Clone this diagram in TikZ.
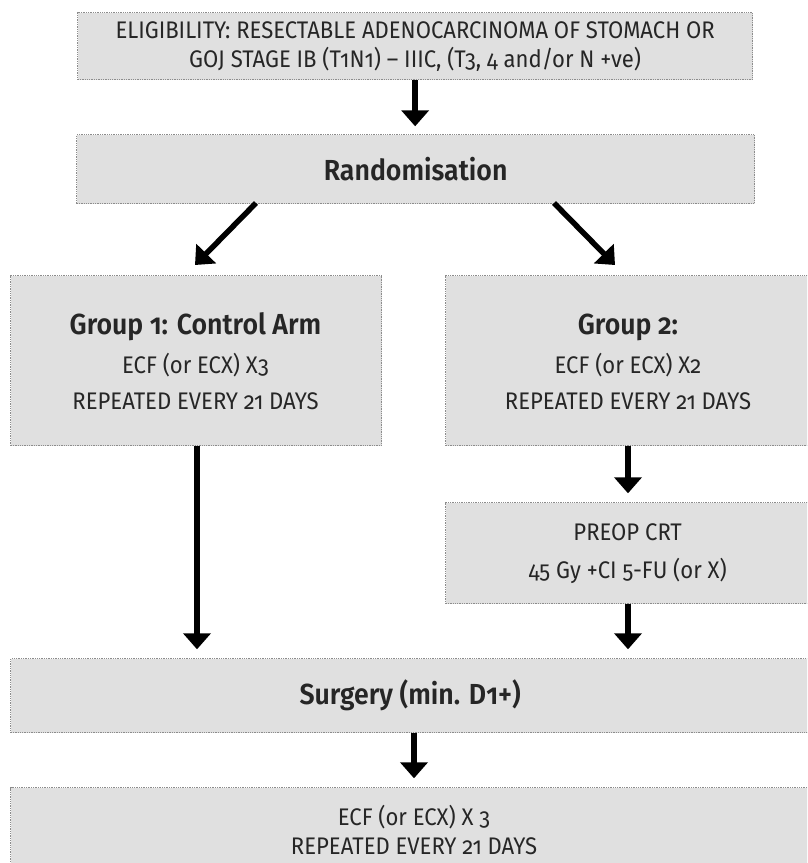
\documentclass[tikz,border=0pt]{standalone}
\usepackage{fontspec}
\setmainfont{Fira Sans}[Numbers=OldStyle, FakeStretch=0.92, BoldFont={Fira Sans SemiBold}]
\usetikzlibrary{arrows.meta}
\definecolor{boxfill}{HTML}{E0E0E0}
\definecolor{boxline}{HTML}{8C8C8C}
\definecolor{ink}{HTML}{262626}
\tikzset{
  stagebox/.style={draw=boxline, densely dotted, line width=1.3pt, fill=boxfill,
    inner sep=0pt, align=center, text=ink, anchor=north west},
  flow/.style={line width=5.5pt, draw=black, -{Triangle[width=27pt,length=16pt]}},
  bodytext/.style={font=\fontsize{24}{29}\selectfont},
  titletext/.style={font=\fontsize{29}{34}\selectfont\bfseries},
}
\begin{document}
\begin{tikzpicture}[x=1pt, y=-1pt]
  \useasboundingbox (0,0) rectangle (807,863);
  \begin{scope}
    \clip (0,0) rectangle (807,863);

    % boxes, placed by their top-left corners
    \node[stagebox, minimum width=675pt, minimum height=67pt, bodytext] (elig) at (77,12)
      {ELIGIBILITY: RESECTABLE ADENOCARCINOMA OF STOMACH OR\\GOJ STAGE IB (T1N1) – IIIC, (T3, 4 and/or N +ve)};
    \node[stagebox, minimum width=678pt, minimum height=69pt, titletext] (rand) at (76,134)
      {Randomisation};
    \node[stagebox, minimum width=371pt, minimum height=170pt] (g1) at (10,275) {};
    \node[titletext, text=ink, align=center] (g1t) at (195.5,327) {Group 1: Control Arm};
    \node[bodytext, text=ink, align=center] (g1b) at (195.5,381)
      {ECF (or ECX) X3\\[7pt]REPEATED EVERY 21 DAYS};
    \node[stagebox, minimum width=364pt, minimum height=170pt] (g2) at (445,275) {};
    \node[titletext, text=ink, align=center] (g2t) at (628,327) {Group 2:};
    \node[bodytext, text=ink, align=center] (g2b) at (628,381)
      {ECF (or ECX) X2\\[7pt]REPEATED EVERY 21 DAYS};
    \node[stagebox, minimum width=364pt, minimum height=101pt, bodytext] (preop) at (445,502)
      {PREOP CRT\\[9pt]45 Gy +CI 5-FU (or X)};
    \node[stagebox, minimum width=799pt, minimum height=74pt, titletext] (surg) at (10,658)
      {Surgery (min. D1+)};
    \node[stagebox, minimum width=799pt, minimum height=100pt] (post) at (10,787) {};
    \node[bodytext, text=ink, align=center] (postt) at (414,830)
      {ECF (or ECX) X 3\\REPEATED EVERY 21 DAYS};

    % connector end points
    \coordinate (rL) at (256,203);
    \coordinate (rR) at (554,203);
    \coordinate (gL) at (195,265);
    \coordinate (gR) at (615,265);

    % connectors
    \draw[flow] (elig.south) -- ++(0,46);
    \draw[flow] (rL) -- (gL);
    \draw[flow] (rR) -- (gR);
    \draw[flow] (g1.south -| 197,0) -- ++(0,203);
    \draw[flow] (g2.south -| 628,0) -- ++(0,47);
    \draw[flow] (preop.south -| 628,0) -- ++(0,45);
    \draw[flow] (surg.south -| 414,0) -- ++(0,45);
  \end{scope}
\end{tikzpicture}
\end{document}
